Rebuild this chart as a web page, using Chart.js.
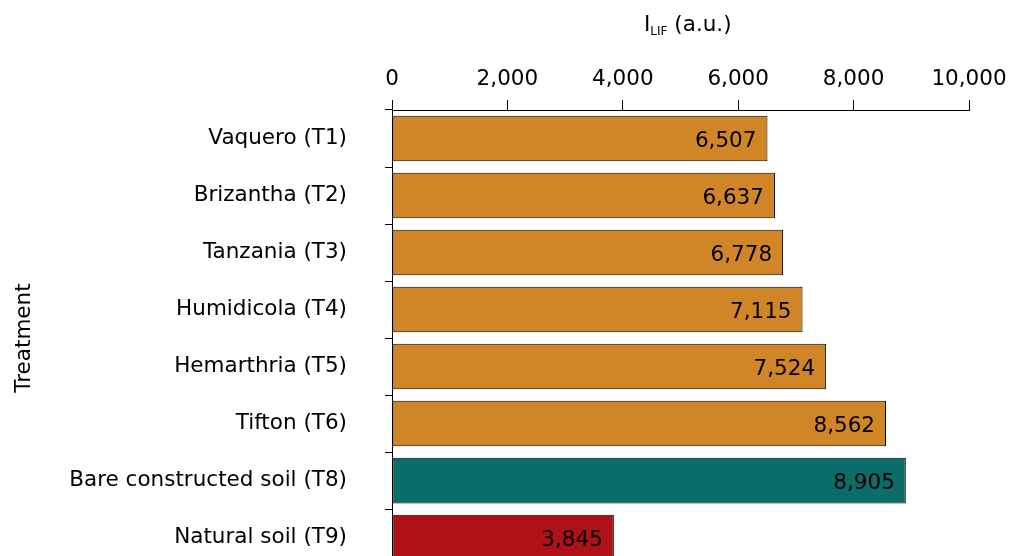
<!DOCTYPE html>
<html>
<head>
<meta charset="utf-8">
<script src="https://cdn.jsdelivr.net/npm/chart.js@4"></script>
<style>
  html, body { margin: 0; padding: 0; overflow: hidden; background: #fff; }
  #wrap { position: relative; width: 1019px; height: 617px; }
  #xtitle { position: absolute; top: 11px; left: 0; width: 1019px; height: 34px;
    font-family: "DejaVu Sans", sans-serif; font-size: 21.5px; color: #000; }
  #xtitle span { position: absolute; left: 644px; white-space: nowrap; }
  #xtitle sub { font-size: 12px; vertical-align: -4px; }
</style>
</head>
<body>
<div id="wrap">
  <canvas id="c"></canvas>
  <div id="xtitle"><span>I<sub>LIF</sub> (a.u.)</span></div>
</div>
<script>
const categories = ["Vaquero (T1)", "Brizantha (T2)", "Tanzania (T3)", "Humidicola (T4)",
  "Hemarthria (T5)", "Tifton (T6)", "Bare constructed soil (T8)", "Natural soil (T9)"];
const values = [6507, 6637, 6778, 7115, 7524, 8562, 8905, 3845];
const barColors = ["#D08627", "#D08627", "#D08627", "#D08627", "#D08627", "#D08627", "#0B6D69", "#B01118"];
const xTicks = [0, 2000, 4000, 6000, 8000, 10000];

const FONT = "'DejaVu Sans', sans-serif";
const FS = 21.5;

const valueLabels = {
  id: 'valueLabels',
  afterDatasetsDraw(chart) {
    const ctx = chart.ctx;
    const meta = chart.getDatasetMeta(0);
    ctx.save();
    ctx.font = FS + "px " + FONT;
    ctx.fillStyle = "#000";
    ctx.textAlign = "right";
    ctx.textBaseline = "middle";
    meta.data.forEach((bar, i) => {
      ctx.fillText(values[i].toLocaleString('en-US'), bar.x - 11, bar.y + 3);
    });
    ctx.restore();
  }
};

new Chart(document.getElementById('c'), {
  type: 'bar',
  data: {
    labels: categories,
    datasets: [{
      data: values,
      backgroundColor: barColors,
      borderColor: "#000",
      borderWidth: 1,
      borderSkipped: false,
      barPercentage: 0.8,
      categoryPercentage: 1.0
    }]
  },
  options: {
    indexAxis: 'y',
    responsive: true,
    maintainAspectRatio: false,
    animation: false,
    devicePixelRatio: 1,
    layout: { padding: { left: 0, right: 50, top: 0, bottom: 0 } },
    plugins: { legend: { display: false }, tooltip: { enabled: false } },
    scales: {
      x: {
        position: 'top',
        min: 0, max: 10000,
        afterBuildTicks(scale) { scale.ticks = xTicks.map(v => ({ value: v })); },
        afterFit(scale) { scale.height = 110; },
        ticks: {
          color: "#000",
          font: { family: FONT, size: FS },
          padding: 8,
          maxRotation: 0,
          callback: v => Number(v).toLocaleString('en-US')
        },
        grid: { display: true, drawOnChartArea: false, drawTicks: true, tickLength: 10, color: "#000", tickColor: "#000" },
        border: { display: true, color: "#000", width: 1 }
      },
      y: {
        afterFit(scale) { scale.width = 392; },
        ticks: {
          color: "#000",
          font: { family: FONT, size: FS },
          padding: 38
        },
        grid: { display: true, offset: true, drawOnChartArea: false, drawTicks: true, tickLength: 7, color: "#000", tickColor: "#000" },
        border: { display: true, color: "#000", width: 1 },
        title: {
          display: true,
          text: "Treatment",
          color: "#000",
          font: { family: FONT, size: FS },
          padding: { top: 12, bottom: 4 }
        }
      }
    }
  },
  plugins: [valueLabels]
});
</script>
</body>
</html>
